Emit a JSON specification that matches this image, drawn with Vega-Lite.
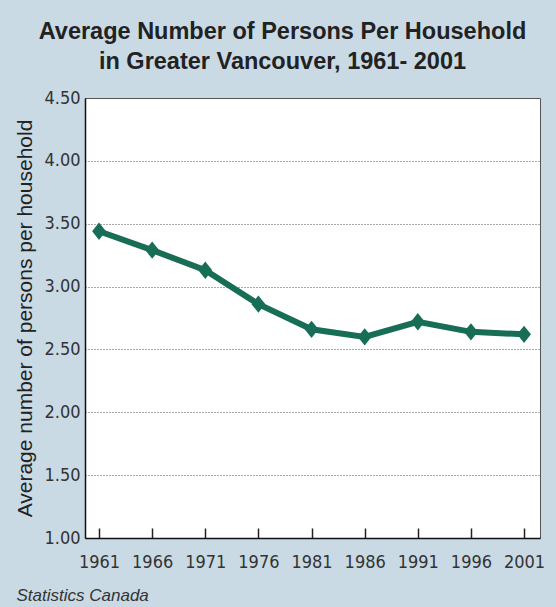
{
  "$schema": "https://vega.github.io/schema/vega-lite/v6.json",
  "width": 455,
  "height": 440,
  "autosize": {"type": "none"},
  "padding": {"left": 85, "top": 98, "right": 16, "bottom": 69},
  "background": "#c9dae5",
  "title": {
    "text": ["Average Number of Persons Per Household", "in Greater Vancouver, 1961- 2001"],
    "font": "Liberation Sans",
    "fontWeight": "bold",
    "fontSize": 23.5,
    "color": "#222222",
    "lineHeight": 30,
    "anchor": "middle",
    "dx": -30,
    "offset": 16
  },
  "data": {
    "values": [
      {"year": 1961, "persons": 3.44},
      {"year": 1966, "persons": 3.29},
      {"year": 1971, "persons": 3.13},
      {"year": 1976, "persons": 2.86},
      {"year": 1981, "persons": 2.66},
      {"year": 1986, "persons": 2.60},
      {"year": 1991, "persons": 2.72},
      {"year": 1996, "persons": 2.64},
      {"year": 2001, "persons": 2.62}
    ]
  },
  "encoding": {
    "x": {
      "field": "year",
      "type": "quantitative",
      "scale": {"domain": [1959.68, 2002.5], "nice": false, "zero": false},
      "axis": {
        "values": [1961, 1966, 1971, 1976, 1981, 1986, 1991, 1996, 2001],
        "format": "d",
        "grid": false,
        "domainColor": "#111111",
        "domainWidth": 1.5,
        "tickColor": "#222222",
        "tickWidth": 1.5,
        "tickSize": -10,
        "labelPadding": 25,
        "labelFont": "'Liberation Sans Narrow', 'DejaVu Sans Condensed', 'Roboto Condensed', 'Open Sans Condensed', 'Liberation Sans', sans-serif",
        "labelFontSize": 18,
        "labelColor": "#333333",
        "title": "Statistics Canada",
        "titleFont": "Liberation Sans",
        "titleFontStyle": "italic",
        "titleFontWeight": "normal",
        "titleFontSize": 17,
        "titleColor": "#333333",
        "titleAnchor": "start",
        "titleAlign": "left",
        "titleX": -69,
        "titleY": 62,
        "titleBaseline": "alphabetic"
      }
    },
    "y": {
      "field": "persons",
      "type": "quantitative",
      "scale": {"domain": [1, 4.5], "nice": false, "zero": false},
      "axis": {
        "values": [1, 1.5, 2, 2.5, 3, 3.5, 4, 4.5],
        "format": ".2f",
        "ticks": false,
        "labelPadding": 5,
        "labelFont": "'Liberation Sans Narrow', 'DejaVu Sans Condensed', 'Roboto Condensed', 'Open Sans Condensed', 'Liberation Sans', sans-serif",
        "labelFontSize": 18,
        "labelColor": "#333333",
        "domainColor": "#111111",
        "domainWidth": 1.5,
        "grid": true,
        "gridColor": "#555555",
        "gridDash": [1, 2],
        "gridWidth": 1,
        "title": "Average number of persons per household",
        "titleFont": "Liberation Sans",
        "titleFontWeight": "normal",
        "titleFontSize": 21,
        "titleColor": "#222222",
        "titlePadding": 8
      }
    }
  },
  "layer": [
    {
      "mark": {"type": "line", "color": "#176d55", "strokeWidth": 6}
    },
    {
      "mark": {"type": "point", "shape": "M-0.8,0L0,-1L0.8,0L0,1Z", "size": 300, "filled": true, "color": "#176d55", "opacity": 1}
    }
  ],
  "config": {
    "view": {"fill": "white", "stroke": "#555555", "strokeWidth": 1}
  }
}
